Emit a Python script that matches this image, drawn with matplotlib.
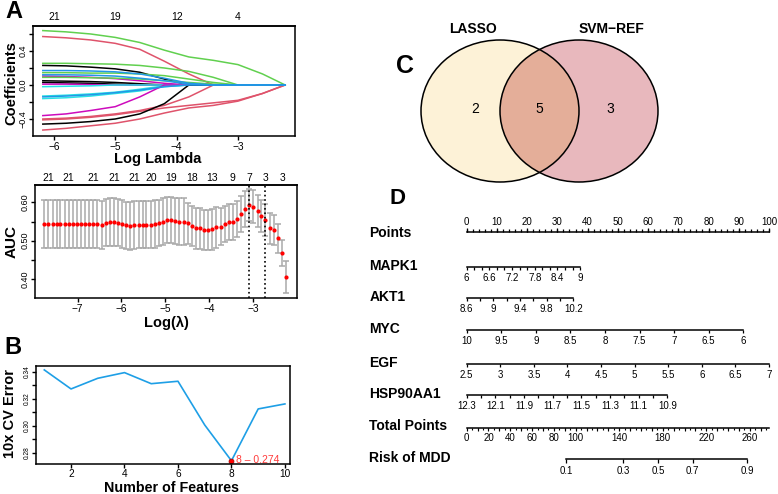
import numpy as np
import matplotlib.pyplot as plt
from matplotlib.patches import Ellipse

plt.rcParams['font.family'] = ['Liberation Sans', 'DejaVu Sans']
plt.rcParams['axes.linewidth'] = 1.1

W, H = 778, 494

# ---- Panel A (top): LASSO coefficient paths ----
LOG_LAMBDA_PATH = [-6.18, -5.8, -5.4, -5.0, -4.6, -4.2, -3.8, -3.4, -3.0, -2.6, -2.23]
COEF_PATHS = [
    [0.64, 0.625, 0.60, 0.56, 0.50, 0.41, 0.33, 0.29, 0.24, 0.13, 0.0],
    [0.57, 0.555, 0.53, 0.49, 0.42, 0.28, 0.13, 0.0, 0.0, 0.0, 0.0],
    [0.255, 0.255, 0.25, 0.245, 0.23, 0.20, 0.16, 0.09, 0.0, 0.0, 0.0],
    [0.23, 0.225, 0.21, 0.19, 0.15, 0.07, 0.0, 0.0, 0.0, 0.0, 0.0],
    [0.145, 0.145, 0.14, 0.14, 0.13, 0.11, 0.07, 0.03, 0.0, 0.0, 0.0],
    [0.105, 0.10, 0.09, 0.075, 0.05, 0.02, 0.0, 0.0, 0.0, 0.0, 0.0],
    [0.09, 0.09, 0.085, 0.08, 0.07, 0.05, 0.03, 0.01, 0.0, 0.0, 0.0],
    [0.05, 0.045, 0.04, 0.03, 0.015, 0.0, 0.0, 0.0, 0.0, 0.0, 0.0],
    [0.03, 0.025, 0.02, 0.01, 0.0, 0.0, 0.0, 0.0, 0.0, 0.0, 0.0],
    [0.01, 0.01, 0.005, 0.0, 0.0, 0.0, 0.0, 0.0, 0.0, 0.0, 0.0],
    [-0.13, -0.12, -0.105, -0.085, -0.05, -0.01, 0.0, 0.0, 0.0, 0.0, 0.0],
    [-0.16, -0.15, -0.13, -0.10, -0.07, -0.02, 0.0, 0.0, 0.0, 0.0, 0.0],
    [-0.02, -0.015, -0.01, 0.0, 0.0, 0.0, 0.0, 0.0, 0.0, 0.0, 0.0],
    [-0.36, -0.34, -0.30, -0.255, -0.14, 0.0, 0.0, 0.0, 0.0, 0.0, 0.0],
    [-0.40, -0.39, -0.37, -0.34, -0.30, -0.24, -0.14, 0.0, 0.0, 0.0, 0.0],
    [-0.41, -0.40, -0.38, -0.35, -0.31, -0.27, -0.24, -0.21, -0.18, -0.10, 0.0],
    [-0.46, -0.45, -0.43, -0.40, -0.34, -0.22, 0.0, 0.0, 0.0, 0.0, 0.0],
    [-0.53, -0.51, -0.48, -0.45, -0.40, -0.33, -0.27, -0.24, -0.19, -0.10, 0.0],
    [0.17, 0.17, 0.165, 0.155, 0.13, 0.08, 0.02, 0.0, 0.0, 0.0, 0.0],
    [0.12, 0.12, 0.115, 0.105, 0.08, 0.05, 0.01, 0.0, 0.0, 0.0, 0.0],
    [-0.14, -0.13, -0.115, -0.09, -0.06, -0.02, 0.0, 0.0, 0.0, 0.0, 0.0],
]
BLACK, RED, GREEN, BLUE, CYAN, MAGENTA = '#000000', '#DF536B', '#61D04F', '#2297E6', '#28E2E5', '#CD0BBC'
COEF_COLORS = [GREEN, RED, GREEN, BLACK, GREEN, MAGENTA, GREEN, BLACK, BLACK, MAGENTA,
               CYAN, CYAN, CYAN, MAGENTA, RED, RED, BLACK, RED, BLUE, BLUE, BLUE]
PATH_TICKS = [-6, -5, -4, -3]
PATH_DF = ['21', '19', '12', '4']

# ---- Panel A (bottom): cross-validated AUC ----
LOG_LAMBDA = [-7.76, -7.67, -7.57, -7.48, -7.39, -7.29, -7.20, -7.11, -7.01, -6.92,
              -6.83, -6.73, -6.64, -6.55, -6.45, -6.36, -6.27, -6.17, -6.08, -5.99,
              -5.89, -5.80, -5.71, -5.61, -5.52, -5.43, -5.33, -5.24, -5.15, -5.05,
              -4.96, -4.87, -4.77, -4.68, -4.58, -4.49, -4.40, -4.30, -4.21, -4.12,
              -4.02, -3.93, -3.84, -3.74, -3.65, -3.56, -3.46, -3.37, -3.28, -3.18,
              -3.09, -3.00, -2.90, -2.81, -2.72, -2.62, -2.53, -2.44, -2.34, -2.25]
AUC = [0.544, 0.544, 0.544, 0.544, 0.544, 0.544, 0.544, 0.544, 0.544, 0.544,
       0.544, 0.544, 0.544, 0.544, 0.541, 0.547, 0.548, 0.548, 0.547, 0.543,
       0.540, 0.539, 0.541, 0.542, 0.542, 0.542, 0.542, 0.543, 0.546, 0.550,
       0.553, 0.554, 0.551, 0.550, 0.550, 0.545, 0.538, 0.532, 0.532, 0.528,
       0.528, 0.530, 0.535, 0.537, 0.543, 0.548, 0.548, 0.557, 0.570, 0.582,
       0.593, 0.589, 0.577, 0.564, 0.554, 0.532, 0.528, 0.506, 0.469, 0.406]
AUC_SD = [0.062] * 28 + [0.060] * 7 + [0.053] * 8 + [0.047] * 7 + \
         [0.042] * 5 + [0.040, 0.040, 0.038, 0.034, 0.041]
LAMBDA_BEST = -3.09
LAMBDA_1SE = -2.72
CV_TOP_POS = [-7.67, -7.20, -6.64, -6.17, -5.71, -5.33, -4.87, -4.40, -3.93, -3.46, -3.09, -2.72, -2.34]
CV_TOP_DF = ['21', '21', '21', '21', '21', '20', '19', '18', '13', '9', '7', '3', '3']

# ---- Panel B: SVM-RFE ----
N_FEATURES = [1, 2, 3, 4, 5, 6, 7, 8, 9, 10]
CV_ERROR = [0.3413, 0.3272, 0.3351, 0.3393, 0.3311, 0.3329, 0.3005, 0.274, 0.3124, 0.3161]

# ---- Panel C: Venn ----
VENN_SETS = ['LASSO', 'SVM\u2212REF']
VENN_COUNTS = [2, 5, 3]  # LASSO only, both, SVM only

# ---- Panel D: nomogram ----
NOMO_ROWS = ['MAPK1', 'AKT1', 'MYC', 'EGF', 'HSP90AA1']
NOMO_TICKS = [
    [6.0, 6.2, 6.4, 6.6, 6.8, 7.0, 7.2, 7.4, 7.6, 7.8, 8.0, 8.2, 8.4, 8.6, 8.8, 9.0],
    [8.6, 8.8, 9.0, 9.2, 9.4, 9.6, 9.8, 10.0, 10.2],
    [10, 9.5, 9, 8.5, 8, 7.5, 7, 6.5, 6],
    [2.5, 3, 3.5, 4, 4.5, 5, 5.5, 6, 6.5, 7],
    [12.3, 12.2, 12.1, 12.0, 11.9, 11.8, 11.7, 11.6, 11.5, 11.4, 11.3, 11.2, 11.1, 11.0, 10.9],
]
NOMO_LABELS = [
    ['6', '6.6', '7.2', '7.8', '8.4', '9'],
    ['8.6', '9', '9.4', '9.8', '10.2'],
    ['10', '9.5', '9', '8.5', '8', '7.5', '7', '6.5', '6'],
    ['2.5', '3', '3.5', '4', '4.5', '5', '5.5', '6', '6.5', '7'],
    ['12.3', '12.1', '11.9', '11.7', '11.5', '11.3', '11.1', '10.9'],
]
NOMO_MAX_POINTS = [37.5, 35.3, 91.5, 100.0, 66.4]
POINTS_LABELS = [0, 10, 20, 30, 40, 50, 60, 70, 80, 90, 100]
TOTAL_LABELS = [0, 20, 40, 60, 80, 100, 140, 180, 220, 260]
TOTAL_AT_100 = 277.5
RISK_LABELS = ['0.1', '0.3', '0.5', '0.7', '0.9']
RISK_TOTAL = [91.5, 143.5, 175.5, 207.5, 257.5]


fig = plt.figure(figsize=(W / 100, H / 100), dpi=100)


def rect(x0, y0, x1, y1):
    return [x0 / W, 1 - y1 / H, (x1 - x0) / W, (y1 - y0) / H]


def ftext(x, y, s, **kw):
    fig.text(x / W, 1 - y / H, s, **kw)


def r_style(ax, fs=7.3):
    ax.tick_params(direction='out', length=3.2, width=1, labelsize=fs, pad=0.8)


# Panel A top
ax = fig.add_axes(rect(33, 26, 295, 136))
for vals, col in zip(COEF_PATHS, COEF_COLORS):
    ax.plot(LOG_LAMBDA_PATH, vals, color=col, lw=1.1)
ax.set_xlim(-6.34, -2.07)
ax.set_ylim(-0.6, 0.694)
ax.set_xticks(PATH_TICKS)
ax.set_xticklabels(['\u2212%d' % abs(t) for t in PATH_TICKS])
ax.set_yticks([-0.4, -0.2, 0.0, 0.2, 0.4, 0.6])
ax.set_yticklabels(['\u22120.4', '', '0.0', '', '0.4', ''], rotation=90, va='center')
r_style(ax)
ax.tick_params(axis='y', labelsize=6.5)
top = ax.secondary_xaxis('top')
top.set_xticks(PATH_TICKS)
top.set_xticklabels(PATH_DF)
top.tick_params(length=0, labelsize=7.5, pad=3)
ftext(11, 83, 'Coefficients', rotation=90, ha='center', va='center', fontsize=10.5, fontweight='bold')
ftext(158, 163, 'Log Lambda', ha='center', va='baseline', fontsize=10.5, fontweight='bold')

# Panel A bottom
ax = fig.add_axes(rect(35, 185, 297, 298))
ax.errorbar(LOG_LAMBDA, AUC, yerr=AUC_SD, fmt='none', ecolor='darkgrey',
            elinewidth=1.1, capsize=2.2, capthick=1.1)
ax.plot(LOG_LAMBDA, AUC, 'o', color='red', ms=3, mec='none')
ax.axvline(LAMBDA_BEST, color='black', ls=':', lw=1.2)
ax.axvline(LAMBDA_1SE, color='black', ls=':', lw=1.2)
ax.set_xlim(-7.97, -2.0)
ax.set_ylim(0.351, 0.645)
ax.set_xticks([-7, -6, -5, -4, -3])
ax.set_xticklabels(['\u22127', '\u22126', '\u22125', '\u22124', '\u22123'])
ax.set_yticks([0.40, 0.45, 0.50, 0.55, 0.60])
ax.set_yticklabels(['0.40', '', '0.50', '', '0.60'], rotation=90, va='center')
r_style(ax)
ax.tick_params(axis='y', labelsize=6.5)
top = ax.secondary_xaxis('top')
top.set_xticks(CV_TOP_POS)
top.set_xticklabels(CV_TOP_DF)
top.tick_params(length=0, labelsize=7.5, pad=1.5)
ftext(12, 241, 'AUC', rotation=90, ha='center', va='center', fontsize=11, fontweight='bold')
ftext(166, 327, 'Log(\u03bb)', ha='center', va='baseline', fontsize=10.5, fontweight='bold')

# Panel B
ax = fig.add_axes(rect(36, 366, 290, 464))
ax.plot(N_FEATURES, CV_ERROR, color='#1E9FE6', lw=1.2)
best = int(np.argmin(CV_ERROR))
ax.plot(N_FEATURES[best], CV_ERROR[best], 'o', color='red', ms=3.5, mec='#B00000', mew=0.6)
ax.text(N_FEATURES[best] + 0.18, CV_ERROR[best] + 0.0004,
        '%d \u2013 %.3f' % (N_FEATURES[best], CV_ERROR[best]),
        color='#FF3B3B', fontsize=7.5, va='center', ha='left')
ax.set_xlim(0.69, 10.19)
ax.set_ylim(0.2716, 0.3442)
ax.set_xticks([2, 4, 6, 8, 10])
ax.set_yticks([0.28, 0.29, 0.30, 0.31, 0.32, 0.33, 0.34])
ax.set_yticklabels(['0.28', '', '0.30', '', '0.32', '', '0.34'], rotation=90, va='center')
r_style(ax, fs=7.3)
ax.tick_params(axis='x', length=2.8, pad=0.5)
ax.tick_params(axis='y', labelsize=4.8, length=3)
ftext(10, 413, '10x CV Error', rotation=90, ha='center', va='center', fontsize=10.5, fontweight='bold')
ftext(172, 492, 'Number of Features', ha='center', va='baseline', fontsize=10.3, fontweight='bold')

# Panel C: Venn diagram (axes in pixel units)
ax = fig.add_axes(rect(380, 0, 700, 200))
ax.set_xlim(380, 700)
ax.set_ylim(200, 0)
ax.axis('off')
left = Ellipse((500, 111), 158, 142, facecolor='#FDF2D7', edgecolor='none')
right = Ellipse((579, 111), 158, 142, facecolor='#E8B8BD', edgecolor='none')
ax.add_patch(left)
ax.add_patch(right)
inter = Ellipse((579, 111), 158, 142, facecolor='#E4AE99', edgecolor='none')
ax.add_patch(inter)
inter.set_clip_path(left)
for cx in (500, 579):
    ax.add_patch(Ellipse((cx, 111), 158, 142, facecolor='none', edgecolor='black', lw=1.1))
ax.text(473, 29, VENN_SETS[0], ha='center', va='center', fontsize=10, fontweight='bold')
ax.text(612, 29, VENN_SETS[1], ha='center', va='center', fontsize=10, fontweight='bold')
for xc, n in zip((475, 539, 610), VENN_COUNTS):
    ax.text(xc, 109, str(n), ha='center', va='center', fontsize=10)

# Panel D: nomogram (x in points, y in pixel rows)
P0, PX_PER_PT = 466.7, 3.023
axd = fig.add_axes(rect(260, 205, 778, 490))
axd.set_xlim((260 - P0) / PX_PER_PT, (778 - P0) / PX_PER_PT)
axd.set_ylim(490, 205)
axd.axis('off')
LABEL_X = (369.3 - P0) / PX_PER_PT
ROW_Y = [231.7, 266.5, 297.5, 329.5, 363.5, 394.5, 427.5, 459.0]
FS_ROW, FS_TICK = 10, 7

# Points axis
y = ROW_Y[0]
axd.text(LABEL_X, y + 1.5, 'Points', ha='left', va='center', fontsize=FS_ROW, fontweight='bold')
axd.plot([0, 100], [y, y], color='black', lw=1.1)
axd.vlines(range(0, 101, 2), y, y - 2.5, color='black', lw=0.9)
axd.vlines(POINTS_LABELS, y, y - 4, color='black', lw=0.9)
for p in POINTS_LABELS:
    axd.text(p, y - 9.5, str(p), ha='center', va='center', fontsize=FS_TICK)

# variable axes
for i, name in enumerate(NOMO_ROWS):
    y = ROW_Y[i + 1]
    ticks = NOMO_TICKS[i]
    ends = [0, NOMO_MAX_POINTS[i]] if ticks[0] < ticks[-1] else [NOMO_MAX_POINTS[i], 0]
    pos = np.interp(ticks, [min(ticks), max(ticks)], ends)
    axd.text(LABEL_X, y - 1, name, ha='left', va='center', fontsize=FS_ROW, fontweight='bold')
    axd.plot([pos.min(), pos.max()], [y, y], color='black', lw=1.1)
    axd.vlines(pos, y, y + 3.5, color='black', lw=0.9)
    lab_vals = [float(s) for s in NOMO_LABELS[i]]
    lab_pos = np.interp(lab_vals, [min(ticks), max(ticks)], ends)
    for p, s in zip(lab_pos, NOMO_LABELS[i]):
        axd.text(p, y + 11.5, s, ha='center', va='center', fontsize=FS_TICK)

# Total points
y = ROW_Y[6]
axd.text(LABEL_X, y - 2, 'Total Points', ha='left', va='center', fontsize=FS_ROW, fontweight='bold')
axd.plot([0, 100], [y, y], color='black', lw=1.1)
tot_ticks = np.arange(0, TOTAL_AT_100, 5)
axd.vlines(tot_ticks * 100 / TOTAL_AT_100, y, y + 2.5, color='black', lw=0.8)
axd.vlines(np.arange(0, TOTAL_AT_100, 10) * 100 / TOTAL_AT_100, y, y + 3.5, color='black', lw=0.8)
for t in TOTAL_LABELS:
    axd.text(t * 100 / TOTAL_AT_100, y + 10.5, str(t), ha='center', va='center', fontsize=FS_TICK)

# Risk
y = ROW_Y[7]
rpos = np.array(RISK_TOTAL) * 100 / TOTAL_AT_100
axd.text(LABEL_X, y - 1.5, 'Risk of MDD', ha='left', va='center', fontsize=FS_ROW, fontweight='bold')
axd.plot([rpos.min(), rpos.max()], [y, y], color='black', lw=1.1)
axd.vlines(rpos, y, y + 3.5, color='black', lw=0.9)
for p, s in zip(rpos, RISK_LABELS):
    axd.text(p, y + 11.5, s, ha='center', va='center', fontsize=FS_TICK)

# panel letters
ftext(14, 12, 'A', ha='center', va='center', fontsize=17, fontweight='bold')
ftext(13, 348, 'B', ha='center', va='center', fontsize=17, fontweight='bold')
ftext(405, 66, 'C', ha='center', va='center', fontsize=18, fontweight='bold')
ftext(398, 199, 'D', ha='center', va='center', fontsize=16, fontweight='bold')

fig.savefig('out.png', dpi=100)
